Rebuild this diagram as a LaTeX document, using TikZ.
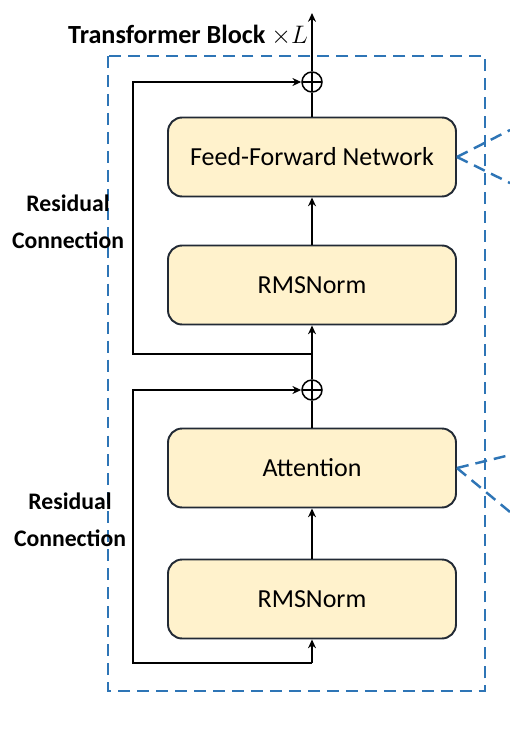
\documentclass[tikz,border=0pt]{standalone}
\usepackage{fontspec}
\setmainfont{Carlito}
\usepackage{tikz}
\usetikzlibrary{arrows.meta,positioning,calc}
\definecolor{FrameBlue}{HTML}{2E75B6}
\definecolor{BlockFill}{HTML}{FFF2CC}
\definecolor{BlockEdge}{HTML}{222A35}

\begin{document}
\begin{tikzpicture}[x=0.02cm, y=-0.02cm,
    block/.style={draw=BlockEdge, line width=1.1pt, fill=BlockFill, rounded corners=8pt,
      minimum width=5.76cm, minimum height=1.58cm, font=\fontsize{14.8}{17}\selectfont},
    addop/.style={draw, line width=0.85pt, circle, minimum size=0.4cm, inner sep=0pt,
      path picture={\draw[line width=0.85pt] (path picture bounding box.north) -- (path picture bounding box.south)
        (path picture bounding box.west) -- (path picture bounding box.east);}},
    conn/.style={line width=0.9pt},
    arr/.style={conn, -{Stealth[length=5pt, width=4.5pt]}},
    frame/.style={draw=FrameBlue, line width=1.4pt, dash pattern=on 6.8pt off 4pt},
    lbl/.style={font=\fontsize{13.5}{21}\selectfont\bfseries, align=center}]
  \useasboundingbox (0,0) rectangle (510,737);

  % Outer frame
  \draw[frame] (108,56) rectangle (485,691);
  \node[lbl, font=\fontsize{14.9}{18}\selectfont\bfseries, anchor=west] (title) at (62,35) {Transformer Block $\times L$};

  % Blocks
  \node[block] (ffn) at (312,157) {Feed-Forward Network};
  \node[block] (norm1) at (312,285) {RMSNorm};
  \node[block] (attn) at (312,468) {Attention};
  \node[block] (norm2) at (312,599) {RMSNorm};

  % Adders and junctions
  \node[addop] (add1) at (312,82) {};
  \node[addop] (add2) at (312,390) {};
  \coordinate (out) at (312,13);
  \coordinate (split1) at (312,354);
  \coordinate (split2) at (312,663);
  \coordinate (skip1) at (133,354);
  \coordinate (skip2) at (133,663);

  % Main path
  \draw[arr] (add1.north) -- (out);
  \draw[conn] (ffn.north) -- (add1.south);
  \draw[arr] (norm1.north) -- (ffn.south);
  \draw[arr] (split1) -- (norm1.south);
  \draw[conn] (add2.north) -- (split1);
  \draw[conn] (attn.north) -- (add2.south);
  \draw[arr] (norm2.north) -- (attn.south);
  \draw[arr] (split2) -- (norm2.south);

  % Residual paths
  \draw[arr] (split1) -- (skip1) |- (add1.west);
  \draw[arr] (split2) -- (skip2) |- (add2.west);
  \node[lbl] (res1) at (68,222) {Residual\\Connection};
  \node[lbl] (res2) at (70,520) {Residual\\Connection};

  % Zoom-out lines
  \coordinate (ffnup) at (510,130);
  \coordinate (ffndown) at (510,183);
  \coordinate (attnup) at (510,455);
  \coordinate (attndown) at (510,512);
  \draw[frame] (ffn.east) -- (ffnup);
  \draw[frame] (ffn.east) -- (ffndown);
  \draw[frame] (attn.east) -- (attnup);
  \draw[frame] (attn.east) -- (attndown);
\end{tikzpicture}
\end{document}
